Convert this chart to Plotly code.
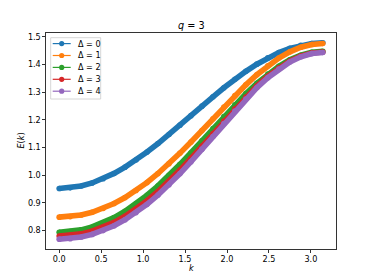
import plotly.graph_objects as go

# ---- data ----
k = [0.000, 0.131, 0.262, 0.393, 0.524, 0.654, 0.785, 0.916, 1.047, 1.178,
     1.309, 1.440, 1.571, 1.702, 1.833, 1.963, 2.094, 2.225, 2.356, 2.487,
     2.618, 2.749, 2.880, 3.011, 3.142]

E_d0 = [0.9520, 0.9543, 0.9610, 0.9720, 0.9872, 1.0064, 1.0290, 1.0549, 1.0835, 1.1144,
        1.1469, 1.1807, 1.2150, 1.2493, 1.2831, 1.3156, 1.3465, 1.3751, 1.4010, 1.4236,
        1.4428, 1.4580, 1.4690, 1.4758, 1.4780]
E_d1 = [0.8485, 0.8505, 0.8564, 0.8662, 0.8800, 0.8977, 0.9193, 0.9447, 0.9738, 1.0062,
        1.0417, 1.0798, 1.1200, 1.1616, 1.2040, 1.2461, 1.2873, 1.3264, 1.3627, 1.3952,
        1.4230, 1.4455, 1.4620, 1.4721, 1.4755]
E_d2 = [0.7941, 0.7962, 0.8026, 0.8132, 0.8279, 0.8469, 0.8699, 0.8969, 0.9277, 0.9619,
        0.9992, 1.0391, 1.0810, 1.1243, 1.1682, 1.2118, 1.2542, 1.2944, 1.3317, 1.3650,
        1.3935, 1.4165, 1.4333, 1.4436, 1.4471]
E_d3 = [0.7801, 0.7821, 0.7880, 0.7979, 0.8118, 0.8297, 0.8517, 0.8777, 0.9077, 0.9413,
        0.9784, 1.0185, 1.0610, 1.1053, 1.1505, 1.1958, 1.2402, 1.2825, 1.3219, 1.3573,
        1.3877, 1.4122, 1.4303, 1.4414, 1.4451]
E_d4 = [0.7690, 0.7709, 0.7767, 0.7863, 0.7999, 0.8175, 0.8392, 0.8650, 0.8948, 0.9284,
        0.9656, 1.0060, 1.0490, 1.0940, 1.1400, 1.1863, 1.2318, 1.2753, 1.3158, 1.3522,
        1.3836, 1.4090, 1.4277, 1.4392, 1.4430]

series = [E_d0, E_d1, E_d2, E_d3, E_d4]
labels = ["Δ = 0", "Δ = 1", "Δ = 2", "Δ = 3", "Δ = 4"]
colors = ["#1f77b4", "#ff7f0e", "#2ca02c", "#d62728", "#9467bd"]

x_ticks = [0.0, 0.5, 1.0, 1.5, 2.0, 2.5, 3.0]
y_ticks = [0.8, 0.9, 1.0, 1.1, 1.2, 1.3, 1.4, 1.5]

FONT = "DejaVu Sans"
W, H = 374, 280
L, R, T, B = 46, 38, 33, 31
PW, PH = W - L - R, H - T - B

fig = go.Figure()
for ys, lab, c in zip(series, labels, colors):
    fig.add_trace(go.Scatter(
        x=k, y=ys, mode="lines+markers", name=lab, showlegend=False,
        line=dict(color=c, width=5.6),
        marker=dict(color=c, size=5.6, line=dict(width=0)),
        hoverinfo="skip",
    ))

# ---- custom matplotlib-like legend ----
def px2paper_x(px):
    return (px - L) / PW

def px2paper_y(py):
    return (H - B - py) / PH

shapes = []
annotations = []
shapes.append(dict(type="rect", xref="paper", yref="paper",
                   x0=px2paper_x(50.7), x1=px2paper_x(100.7),
                   y0=px2paper_y(99.0), y1=px2paper_y(37.7),
                   line=dict(color="#cccccc", width=0.8),
                   fillcolor="rgba(255,255,255,0.8)", layer="above"))
for i, (lab, c) in enumerate(zip(labels, colors)):
    py = 43.6 + i * 11.9
    yp = px2paper_y(py)
    shapes.append(dict(type="line", xref="paper", yref="paper",
                       x0=px2paper_x(52.7), x1=px2paper_x(70.7), y0=yp, y1=yp,
                       line=dict(color=c, width=1.2), layer="above"))
    shapes.append(dict(type="circle", xref="paper", yref="paper",
                       x0=px2paper_x(61.7 - 2.6), x1=px2paper_x(61.7 + 2.6),
                       y0=px2paper_y(py + 2.6), y1=px2paper_y(py - 2.6),
                       line=dict(color=c, width=0), fillcolor=c, layer="above"))
    annotations.append(dict(text=lab, xref="paper", yref="paper",
                            x=px2paper_x(76.0), y=yp, xanchor="left", yanchor="middle",
                            showarrow=False, font=dict(family=FONT, size=8.1, color="black")))

annotations.append(dict(text="<i>k</i>", xref="paper", yref="paper", x=0.5,
                        y=px2paper_y(268), xanchor="center", yanchor="middle",
                        showarrow=False, font=dict(family=FONT, size=8.1, color="black")))
annotations.append(dict(text="<i>E</i>(<i>k</i>)", xref="paper", yref="paper",
                        x=px2paper_x(20.5), y=0.5, xanchor="center", yanchor="middle",
                        textangle=-90, showarrow=False,
                        font=dict(family=FONT, size=8.1, color="black")))
annotations.append(dict(text="<i>q</i> = 3", xref="paper", yref="paper", x=0.5,
                        y=px2paper_y(25), xanchor="center", yanchor="middle",
                        showarrow=False, font=dict(family=FONT, size=9.7, color="black")))

axis_common = dict(showgrid=False, zeroline=False, showline=True, mirror=True,
                   linecolor="black", linewidth=0.8, ticks="outside", ticklen=2.8,
                   tickwidth=0.8, tickcolor="black",
                   tickfont=dict(family=FONT, size=8.1, color="black"))

fig.update_layout(
    width=W, height=H,
    margin=dict(l=L, r=R, t=T, b=B, pad=0),
    paper_bgcolor="white", plot_bgcolor="white",
    showlegend=False, hovermode=False,
    xaxis=dict(range=[-0.157, 3.299], tickvals=x_ticks,
               ticktext=[f"{v:.1f}" for v in x_ticks], **axis_common),
    yaxis=dict(range=[0.7335, 1.5135], tickvals=y_ticks,
               ticktext=[f"{v:.1f}" for v in y_ticks], **axis_common),
    shapes=shapes, annotations=annotations,
)

fig.write_html("out.html", config={"displayModeBar": False, "staticPlot": True},
               post_script="document.body.style.margin='0';document.body.style.overflow='hidden';")
